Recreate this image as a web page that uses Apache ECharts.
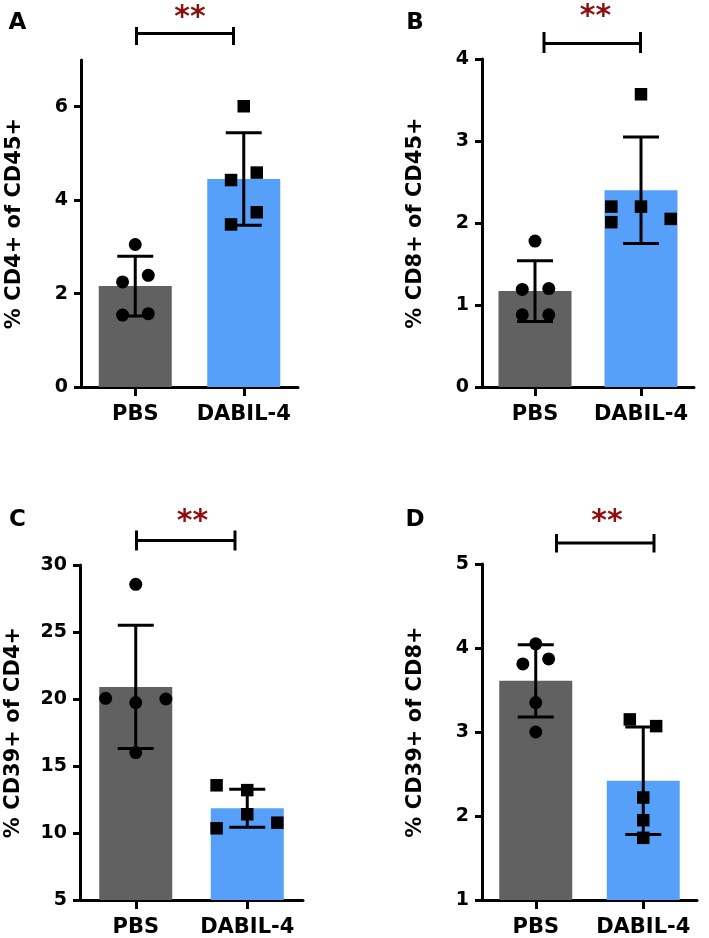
<!DOCTYPE html>
<html>
<head>
<meta charset="utf-8">
<script src="https://cdn.jsdelivr.net/npm/echarts@6/dist/echarts.min.js"></script>
<style>
  html, body { margin: 0; padding: 0; background: #fff; }
  #chart { width: 709px; height: 938px; }
</style>
</head>
<body>
<div id="chart"></div>
<script>
// ---------- DATA ----------
const categories = ['PBS', 'DABIL-4'];

// Panel A: % CD4+ of CD45+
const aTitle = '% CD4+ of CD45+';
const aPBS = [3.05, 2.25, 2.39, 1.54, 1.57];
const aDABIL = [6.01, 4.43, 4.59, 3.74, 3.48];
const aMean = [2.16, 4.45];
const aSD = [0.64, 0.99];
const aTicks = [0, 2, 4, 6];
const aRange = [0, 7];

// Panel B: % CD8+ of CD45+
const bTitle = '% CD8+ of CD45+';
const bPBS = [1.78, 1.19, 1.20, 0.88, 0.88];
const bDABIL = [3.57, 2.20, 2.20, 2.01, 2.05];
const bMean = [1.17, 2.40];
const bSD = [0.37, 0.65];
const bTicks = [0, 1, 2, 3, 4];
const bRange = [0, 4];

// Panel C: % CD39+ of CD4+
const cTitle = '% CD39+ of CD4+';
const cPBS = [28.56, 20.05, 19.73, 20.0, 16.0];
const cDABIL = [13.56, 13.2, 11.4, 10.35, 10.77];
const cMean = [20.9, 11.85];
const cSD = [4.6, 1.42];
const cTicks = [5, 10, 15, 20, 25, 30];
const cRange = [5, 30];

// Panel D: % CD39+ of CD8+
const dTitle = '% CD39+ of CD8+';
const dPBS = [4.05, 3.81, 3.87, 3.35, 3.0];
const dDABIL = [3.15, 3.07, 2.22, 1.95, 1.74];
const dMean = [3.61, 2.42];
const dSD = [0.43, 0.64];
const dTicks = [1, 2, 3, 4, 5];
const dRange = [1, 5];

const significance = '**';
const panelLetters = ['A', 'B', 'C', 'D'];

// ---------- LAYOUT (not data) ----------
// horizontal jitter of the dots, in category units
const jitterA = [[0, -0.117, 0.12, -0.117, 0.12], [0, -0.117, 0.12, 0.12, -0.117]];
const jitterB = [[0, -0.12, 0.13, -0.12, 0.13], [0, -0.28, 0, -0.28, 0.28]];
const jitterC = [[0, -0.27, 0, 0.27, 0], [-0.275, 0, 0, -0.275, 0.27]];
const jitterD = [[0, -0.12, 0.12, 0, 0], [-0.125, 0.12, 0, 0, 0]];

const grids = [
  { left: 81, right: 411, top: 60, bottom: 551 },
  { left: 482, right: 15, top: 59, bottom: 551 },
  { left: 80, right: 406, top: 565, bottom: 38 },
  { left: 482, right: 12, top: 564, bottom: 38 }
];
const brackets = [
  { x1: 136.5, x2: 233.5, y: 33.5, t: 27, b: 45, sx: 190, sy: 11 },
  { x1: 544, x2: 640.5, y: 43.5, t: 32, b: 53, sx: 595.5, sy: 10 },
  { x1: 136.5, x2: 235, y: 540.5, t: 530.5, b: 550.5, sx: 192.5, sy: 515.7 },
  { x1: 556.5, x2: 654, y: 543, t: 534, b: 552.5, sx: 607, sy: 515.7 }
];
const letterPos = [[17.5, 23.5], [415, 23.5], [17.5, 520.5], [415, 520.5]];

const FONT = '"DejaVu Sans", "Liberation Sans", Arial, sans-serif';
const GRAY = '#616161';
const BLUE = '#57a0fa';
const STAR = '#8b1010';

const panels = [
  { title: aTitle, pbs: aPBS, dabil: aDABIL, mean: aMean, sd: aSD, ticks: aTicks, range: aRange, jit: jitterA },
  { title: bTitle, pbs: bPBS, dabil: bDABIL, mean: bMean, sd: bSD, ticks: bTicks, range: bRange, jit: jitterB },
  { title: cTitle, pbs: cPBS, dabil: cDABIL, mean: cMean, sd: cSD, ticks: cTicks, range: cRange, jit: jitterC },
  { title: dTitle, pbs: dPBS, dabil: dDABIL, mean: dMean, sd: dSD, ticks: dTicks, range: dRange, jit: jitterD }
];

const xAxis = [], yAxis = [], series = [];
panels.forEach((p, i) => {
  // category axis (visible)
  xAxis.push({
    type: 'category', gridIndex: i, data: categories,
    axisLine: { onZero: false, lineStyle: { color: '#000', width: 3 } },
    axisTick: { show: true, alignWithLabel: true, length: 9, lineStyle: { color: '#000', width: 3 } },
    axisLabel: { color: '#000', fontFamily: FONT, fontWeight: 'bold', fontSize: 21, margin: 17, interval: 0, hideOverlap: false },
    splitLine: { show: false }
  });
  // hidden value axis for dots and error bars
  xAxis.push({
    type: 'value', gridIndex: i, min: -0.5, max: 1.5, show: false
  });
  yAxis.push({
    type: 'value', gridIndex: i, min: p.range[0], max: p.range[1],
    name: p.title, nameLocation: 'middle', nameGap: 56, nameRotate: 90,
    nameTextStyle: { color: '#000', fontFamily: FONT, fontWeight: 'bold', fontSize: 21 },
    axisLine: { show: true, onZero: false, lineStyle: { color: '#000', width: 3 } },
    axisTick: { show: true, length: 7, lineStyle: { color: '#000', width: 3 }, customValues: p.ticks },
    axisLabel: { color: '#000', fontFamily: FONT, fontWeight: 'bold', fontSize: 19, margin: 13, customValues: p.ticks },
    splitLine: { show: false }
  });
  const xCat = i * 2, xVal = i * 2 + 1;
  series.push({
    type: 'bar', xAxisIndex: xCat, yAxisIndex: i, barWidth: 73,
    data: [
      { value: p.mean[0], itemStyle: { color: GRAY } },
      { value: p.mean[1], itemStyle: { color: BLUE } }
    ],
    z: 1, silent: true
  });
  series.push({
    type: 'custom', coordinateSystem: 'cartesian2d', xAxisIndex: xVal, yAxisIndex: i,
    data: p.mean.map((m, k) => [k, m - p.sd[k], m + p.sd[k]]),
    renderItem: (params, api) => {
      const x = api.value(0), lo = api.value(1), hi = api.value(2);
      const t = api.coord([x, hi]), b = api.coord([x, lo]);
      const w = 18;
      const st = { stroke: '#000', lineWidth: 3, fill: null };
      return {
        type: 'group', children: [
          { type: 'line', shape: { x1: t[0], y1: t[1], x2: b[0], y2: b[1] }, style: st },
          { type: 'line', shape: { x1: t[0] - w, y1: t[1], x2: t[0] + w, y2: t[1] }, style: st },
          { type: 'line', shape: { x1: b[0] - w, y1: b[1], x2: b[0] + w, y2: b[1] }, style: st }
        ]
      };
    },
    z: 3, silent: true
  });
  series.push({
    type: 'scatter', xAxisIndex: xVal, yAxisIndex: i, symbol: 'circle', symbolSize: 13,
    itemStyle: { color: '#000', opacity: 1 },
    data: p.pbs.map((v, k) => [0 + p.jit[0][k], v]), z: 4, silent: true
  });
  series.push({
    type: 'scatter', xAxisIndex: xVal, yAxisIndex: i, symbol: 'rect', symbolSize: 12.5,
    itemStyle: { color: '#000', opacity: 1 },
    data: p.dabil.map((v, k) => [1 + p.jit[1][k], v]), z: 4, silent: true
  });
});

const graphic = [];
brackets.forEach((br, i) => {
  const st = { stroke: '#000', lineWidth: 3 };
  graphic.push({ type: 'line', shape: { x1: br.x1, y1: br.y, x2: br.x2, y2: br.y }, style: st });
  graphic.push({ type: 'line', shape: { x1: br.x1, y1: br.t, x2: br.x1, y2: br.b }, style: st });
  graphic.push({ type: 'line', shape: { x1: br.x2, y1: br.t, x2: br.x2, y2: br.b }, style: st });
  graphic.push({
    type: 'text', x: br.sx, y: br.sy + 7,
    style: { text: significance, fill: STAR, font: 'bold 30px ' + FONT, textAlign: 'center', textVerticalAlign: 'middle' }
  });
  graphic.push({
    type: 'text', x: letterPos[i][0], y: letterPos[i][1],
    style: { text: panelLetters[i], fill: '#000', font: 'bold 23px ' + FONT, textAlign: 'center', textVerticalAlign: 'middle' }
  });
});

const chart = echarts.init(document.getElementById('chart'), null, { renderer: 'canvas' });
chart.setOption({
  animation: false,
  backgroundColor: '#fff',
  grid: grids,
  xAxis: xAxis,
  yAxis: yAxis,
  series: series,
  graphic: graphic
});
</script>
</body>
</html>
